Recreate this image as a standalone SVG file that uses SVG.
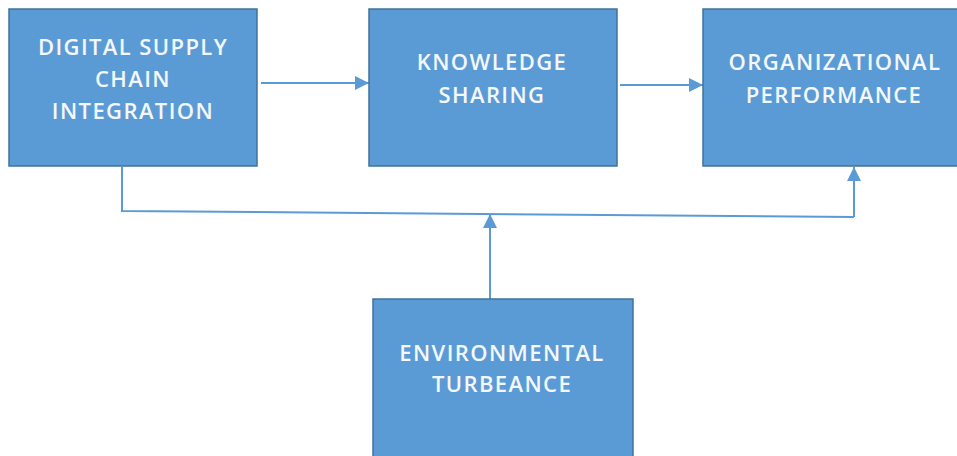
<svg xmlns="http://www.w3.org/2000/svg" width="957" height="456" viewBox="0 0 957 456">
  <defs>
    <marker id="arrow" viewBox="0 0 10 10" refX="10" refY="5" markerWidth="14" markerHeight="14" markerUnits="userSpaceOnUse" orient="auto">
      <path d="M0,0 L10,5 L0,10 Z" fill="#5B9BD5"/>
    </marker>
    <style>
      .box { fill: #5B9BD5; stroke: #41719C; stroke-width: 1.5; }
      .label { font-family: "Open Sans", "Liberation Sans", sans-serif; font-size: 22px; font-weight: 600; letter-spacing: 1.4px; fill: #F4F8FC; text-anchor: middle; }
      .conn { fill: none; stroke: #5B9BD5; stroke-width: 2; }
    </style>
  </defs>
  <rect width="957" height="456" fill="#FFFFFF"/>

  <g id="connectors">
    <line class="conn" x1="261" y1="83" x2="369" y2="83" marker-end="url(#arrow)"/>
    <line class="conn" x1="620" y1="85" x2="703" y2="85" marker-end="url(#arrow)"/>
    <polyline class="conn" points="122,167 122,211 854,217"/>
    <line class="conn" x1="854" y1="217" x2="854" y2="167" marker-end="url(#arrow)"/>
    <line class="conn" x1="490" y1="299" x2="490" y2="214" marker-end="url(#arrow)"/>
  </g>

  <g id="digital-supply-chain-integration">
    <rect class="box" x="9" y="9" width="248" height="157"/>
    <text class="label" x="133" y="55">DIGITAL SUPPLY</text>
    <text class="label" x="133" y="87">CHAIN</text>
    <text class="label" x="133" y="119">INTEGRATION</text>
  </g>

  <g id="knowledge-sharing">
    <rect class="box" x="369" y="9" width="248" height="157"/>
    <text class="label" x="492" y="70">KNOWLEDGE</text>
    <text class="label" x="492" y="103">SHARING</text>
  </g>

  <g id="organizational-performance">
    <rect class="box" x="703" y="9" width="262" height="157"/>
    <text class="label" x="835" y="70">ORGANIZATIONAL</text>
    <text class="label" x="834" y="103">PERFORMANCE</text>
  </g>

  <g id="environmental-turbeance">
    <rect class="box" x="373" y="299" width="260" height="170"/>
    <text class="label" x="502" y="361">ENVIRONMENTAL</text>
    <text class="label" x="502" y="392">TURBEANCE</text>
  </g>
</svg>
